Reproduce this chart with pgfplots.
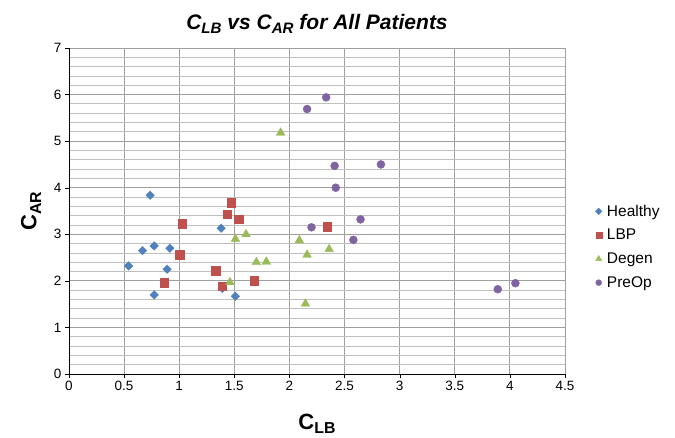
\documentclass[border=0pt]{standalone}
\usepackage{fontspec}
\setmainfont{Liberation Sans}
\usepackage{pgfplots}
\pgfplotsset{compat=1.18}
\definecolor{xlblue}{HTML}{4F81BD}
\definecolor{xlred}{HTML}{C0504D}
\definecolor{xlgreen}{HTML}{9BBB59}
\definecolor{xlpurple}{HTML}{8064A2}
\newcommand\sub[1]{\raisebox{-0.4ex}{\scalebox{0.72}{#1}}}
\begin{document}
\begin{tikzpicture}
\begin{axis}[
  scale only axis,
  width=496pt, height=326pt,
  xmin=0, xmax=4.5, ymin=0, ymax=7,
  xtick={0,0.5,...,4.5}, ytick={0,1,...,7},
  minor y tick num=4,
  xmajorgrids, ymajorgrids, yminorgrids,
  major grid style={gray!75, line width=0.8pt},
  minor grid style={gray!50, line width=0.8pt},
  axis lines=left,
  axis line style={black, line width=0.9pt, -},
  tick style={black},
  major tick length=4pt,
  minor tick length=0pt,
  tick align=outside,
  /pgf/number format/assume math mode=true,
  /pgf/number format/.cd, fixed, use period, 1000 sep={}, /pgfplots/.cd,
  ticklabel style={font=\fontsize{13.5}{15}\selectfont},
  title={\fontsize{21}{24}\selectfont\bfseries\itshape C\sub{LB} vs C\sub{AR} for All Patients},
  title style={yshift=5pt},
  xlabel={\fontsize{22}{24}\selectfont\bfseries C\sub{LB}},
  ylabel={\fontsize{22}{24}\selectfont\bfseries C\sub{AR}},
  xlabel style={yshift=-16pt},
  ylabel style={yshift=6pt},
  legend style={draw=none, fill=none, at={(1.055,0.39)}, anchor=west,
    font=\fontsize{15.5}{17}\selectfont, row sep=7.5pt,
    nodes={inner xsep=5pt}},
  legend cell align=left,
  clip=false,
]
% Healthy: square diamond (rotated square)
\addplot[only marks, mark=square*, mark size=3pt, mark options={rotate=45},
  color=xlblue, legend image post style={mark size=2.3pt}] coordinates {
(0.736,3.84) (1.38,3.13) (0.667,2.65) (0.773,2.75) (0.915,2.70)
(0.54,2.32) (0.89,2.25) (0.773,1.70) (1.51,1.67) (1.39,1.84)
};
\addplot[only marks, mark=square*, mark size=4.2pt, color=xlred,
  legend image post style={mark size=3pt}] coordinates {
(1.473,3.68) (1.433,3.43) (1.54,3.33) (1.027,3.23) (1.006,2.56)
(1.33,2.22) (0.864,1.96) (1.388,1.88) (1.68,2.00) (2.34,3.16)
};
\addplot[only marks, mark=triangle*, mark size=5pt, color=xlgreen,
  legend image post style={mark size=3.4pt}] coordinates {
(1.51,2.90) (1.606,3.00) (1.70,2.40) (1.79,2.41) (1.46,1.97)
(2.09,2.87) (2.16,2.56) (2.145,1.51) (1.92,5.18) (2.36,2.68)
};
\addplot[only marks, mark=*, mark size=4pt, color=xlpurple,
  legend image post style={mark size=3pt}] coordinates {
(2.333,5.94) (2.16,5.69) (2.41,4.47) (2.83,4.50) (2.42,4.00)
(2.645,3.32) (2.20,3.15) (2.58,2.88) (3.89,1.82) (4.05,1.95)
};
\legend{Healthy, LBP, Degen, PreOp}
\end{axis}
\path (current axis.south west) ++(-69pt,-62pt) coordinate (bl);
\path (current axis.north east) ++(110pt,48pt) coordinate (tr);
\path (bl) rectangle (tr);
\end{tikzpicture}
\end{document}
